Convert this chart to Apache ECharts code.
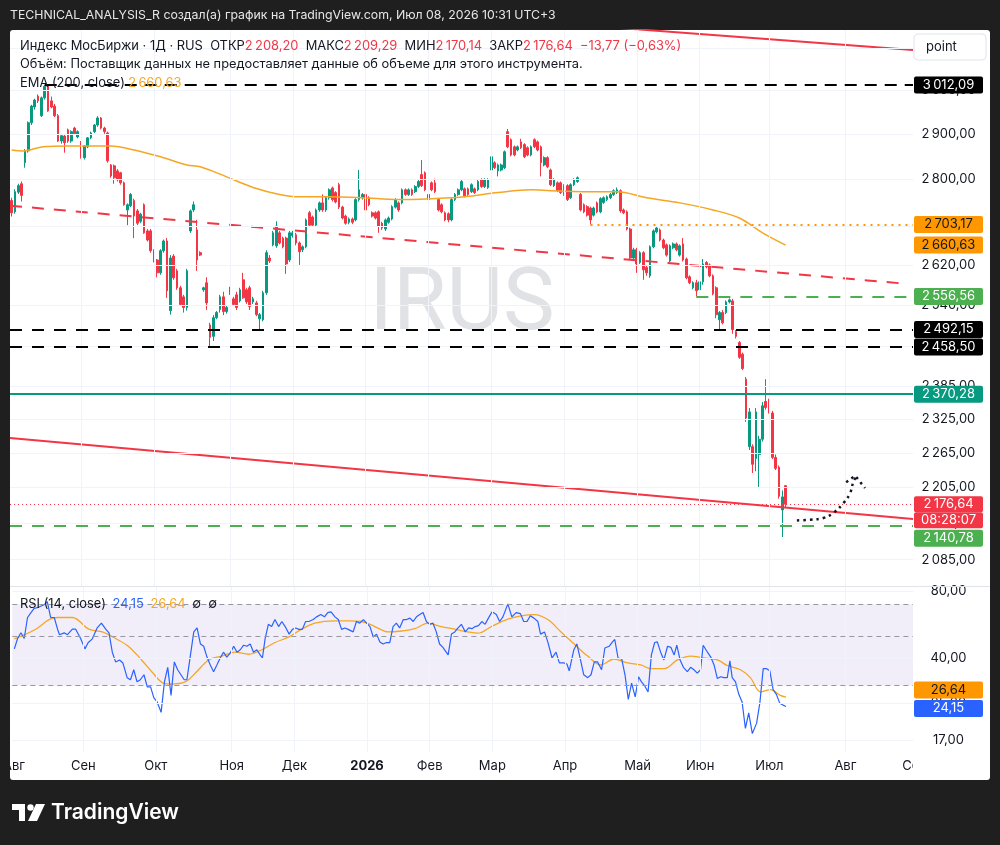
<!DOCTYPE html>
<html><head><meta charset="utf-8">
<script src="https://cdn.jsdelivr.net/npm/echarts@6/dist/echarts.min.js"></script>
<style>html,body{margin:0;padding:0;background:#1f1f1f;}#c{width:1000px;height:845px;}</style>
</head><body><div id="c"></div>
<script>
// ---------- DATA ----------
const monthStarts = [0,21,43,66,85,107,126,145,167,189,208,229,252];
const monthLabels = ['Авг','Сен','Окт','Ноя','Дек','2026','Фев','Мар','Апр','Май','Июн','Июл','Авг'];

const open = [2754,2730,2772,2790,2836,2862,2925,2961,2986,2941,2982,3009,2975,2963,2941,2884,2895,2909,2884,2913,
2893,2880,2847,2871,2891,2905,2920,2936,2913,2902,2831,2829,2818,2814,2792,2734,2743,2754,2732,2710,
2745,2690,2690,2649,2630,2604,2649,2669,2529,2638,2608,2574,2556,2535,2690,2734,2692,2645,2570,2584,
2501,2479,2515,2531,2556,2527,2564,2552,2560,2548,2590,2570,2574,2546,2544,2513,2511,2564,2634,2661,
2659,2686,2675,2675,2630,2680,2682,2665,2651,2657,2728,2719,2702,2734,2749,2734,2760,2781,2771,2788,
2740,2721,2708,2715,2713,2756,2760,2767,2760,2728,2728,2730,2706,2694,2708,2715,2740,2749,2749,2777,
2767,2777,2773,2784,2810,2814,2756,2792,2792,2756,2745,2728,2726,2713,2756,2767,2777,2779,2779,2773,
2779,2777,2799,2784,2782,2820,2836,2818,2820,2825,2905,2887,2871,2864,2882,2876,2869,2853,2887,2882,
2871,2831,2847,2820,2786,2792,2792,2786,2786,2760,2788,2795,2767,2745,2741,2738,2723,2749,2730,2750,
2756,2760,2767,2771,2775,2734,2730,2694,2634,2651,2625,2645,2615,2598,2657,2688,2692,2671,2661,2628,
2655,2663,2640,2663,2632,2596,2574,2584,2570,2586,2625,2620,2598,2574,2511,2525,2525,2546,2548,2488,
2467,2445,2398,2276,2276,2255,2262,2289,2357,2357,2336,2257,2240,2167,2208.20];
const high = [2760,2778,2790,2795,2866,2928,2966,2980,2990,2985,3012.09,3011,2985,2968,2945,2900,2898,2912,2908,2916,
2908,2884,2875,2893,2905,2922,2940,2938,2916,2905,2833,2832,2822,2816,2795,2748,2770,2758,2736,2728,
2748,2694,2694,2652,2632,2652,2672,2675,2640,2642,2612,2578,2560,2612,2735,2752,2713,2648,2576,2595,
2505,2520,2528,2560,2566,2540,2576,2556,2566,2574,2604,2574,2578,2556,2548,2524,2568,2650,2640,2690,
2710,2690,2678,2678,2690,2690,2686,2668,2660,2716,2732,2722,2737,2752,2767,2763,2780,2784,2774,2792,
2743,2724,2718,2718,2759,2820,2770,2770,2763,2731,2731,2733,2709,2716,2720,2744,2759,2752,2780,2780,
2780,2780,2787,2798,2842,2817,2770,2795,2801,2759,2748,2731,2729,2759,2770,2780,2798,2782,2782,2791,
2782,2798,2802,2802,2802,2852,2839,2834,2834,2863,2911,2890,2874,2874,2889,2879,2872,2874,2890,2885,
2874,2850,2850,2823,2802,2795,2795,2789,2789,2791,2802,2806,2770,2748,2744,2741,2741,2752,2761,2763,
2765,2770,2778,2782,2778,2737,2733,2697,2655,2655,2648,2648,2618,2660,2693,2699,2695,2674,2664,2662,
2666,2666,2662,2675,2635,2599,2587,2590,2590,2632,2628,2623,2601,2577,2528,2530,2549,2553,2552,2491,
2470,2448,2402,2345,2280,2345,2295,2356,2398,2362,2340,2262,2243,2200,2209.29];
const low = [2720,2726,2768,2752,2825,2858,2920,2955,2970,2938,2978,2950,2958,2938,2882,2878,2858,2880,2880,2898,
2890,2845,2843,2868,2888,2902,2916,2910,2900,2836,2803,2790,2795,2788,2743,2702,2740,2675,2702,2706,
2684,2668,2645,2625,2595,2600,2645,2554,2521,2590,2570,2538,2525,2529,2686,2730,2608,2638,2566,2530,
2458.50,2470,2512,2525,2520,2523,2560,2538,2530,2545,2552,2542,2530,2542,2518,2492.15,2508,2560,2624,2658,
2655,2662,2654,2602,2626,2676,2660,2620,2646,2654,2698,2698,2698,2730,2730,2730,2756,2752,2748,2736,
2714,2703,2704,2704,2710,2752,2756,2730,2742,2718,2714,2686,2692,2690,2705,2712,2737,2730,2746,2764,
2764,2764,2770,2781,2783,2774,2753,2774,2770,2731,2727,2710,2708,2710,2753,2764,2774,2761,2764,2770,
2768,2774,2781,2781,2779,2817,2822,2806,2817,2822,2868,2850,2850,2861,2866,2846,2850,2850,2868,2861,
2806,2828,2824,2785,2783,2772,2768,2764,2753,2757,2785,2792,2731,2727,2720,2703.17,2720,2727,2727,2747,
2753,2757,2764,2768,2728,2725,2691,2631,2630,2604,2622,2590,2598,2594,2654,2685,2668,2652,2637,2625,
2652,2648,2637,2627,2591,2581,2571,2556.56,2567,2580,2613,2595,2559,2514,2490,2502,2522,2543,2484,2475,
2436,2415,2320,2270,2230,2233,2206,2285,2342,2335,2254,2235,2186,2122,2170.14];
const close = [2728,2773,2786,2765,2862,2925,2963,2977,2975,2982,3009,2952,2961,2941,2884,2896,2880,2884,2905,2900,
2905,2847,2873,2891,2902,2920,2936,2913,2905,2840,2807,2803,2799,2792,2745,2745,2767,2721,2706,2725,
2686,2671,2649,2628,2604,2649,2669,2568,2634,2594,2574,2541,2535,2608,2732,2745,2630,2640,2574,2544,
2477,2515,2525,2556,2527,2535,2570,2541,2535,2570,2554,2546,2537,2552,2521,2521,2564,2645,2628,2686,
2700,2665,2657,2622,2686,2686,2665,2647,2657,2713,2702,2702,2734,2749,2734,2760,2777,2756,2751,2740,
2717,2706,2715,2708,2756,2777,2767,2734,2745,2721,2717,2700,2696,2713,2717,2741,2756,2734,2777,2767,
2777,2767,2784,2795,2786,2777,2767,2777,2773,2734,2730,2713,2713,2756,2767,2777,2795,2764,2767,2788,
2771,2795,2784,2799,2799,2849,2825,2831,2831,2860,2871,2853,2853,2871,2869,2849,2853,2871,2871,2864,
2836,2847,2827,2788,2799,2775,2771,2767,2756,2788,2799,2803,2734,2730,2723,2713,2738,2730,2758,2760,
2762,2767,2775,2777,2732,2728,2694,2634,2651,2622,2645,2610,2604,2657,2690,2696,2671,2655,2640,2659,
2663,2651,2659,2630,2594,2584,2584,2568,2586,2622,2616,2598,2562,2521,2525,2505,2546,2550,2492,2479,
2439,2418,2327,2338,2245,2338,2289,2349,2346,2338,2257,2238,2190,2189,2176.64];

// EMA(200) (bar index, value)
const emaIdx = [0,3.5,9.5,17,30,37,45,53,57,65,73,81,87,96,106,117,127,137,147,157,163,173,183,192,202,212,220,227,234];
const emaVal = [2864,2862,2871,2873,2873,2864,2849,2831,2827,2805,2782,2767,2762,2762,2760,2756,2758,2762,2771,2777,2775,2773,2773,2760,2749,2734,2717,2686,2660.63];

// RSI(14)
const rsiIdx = [0.1,1.1,2.1,3.1,4.1,5.1,6.1,7.6,9.1,10.1,11.1,12.2,13.2,13.8,15.2,16.2,17.7,18.7,20.2,21.5,22.5,23.7,25.2,26.5,27.8,28.8,29.8,30.8,32,33,
34.3,35.3,36.3,37.3,38.3,39.4,40.4,41.4,42.4,43.4,44.6,45.6,46.6,47.6,48.6,49.6,50.6,51.6,52.4,53.4,54.5,55.5,56.5,57.5,58.5,59.5,60.5,61.5,62.5,63.5,
64.5,65.5,66.6,67.6,68.6,69.6,70.6,71.6,72.6,73.6,74.6,75.3,76.1,77.1,78.1,79.1,80.2,81.2,82.2,83.4,84.4,85.4,86.4,87.4,88.4,89.4,90.7,91.7,93,94.1,
95.1,96.1,97.3,98.3,99.3,100.3,101.3,102.8,103.8,104.8,105.9,106.9,107.9,108.9,109.9,110.9,111.9,112.9,113.9,114.9,115.9,116.9,118,119,120,121,122,123,124,125,
126,127,128,129,130,131.6,132.6,133.6,134.6,135.6,136.8,137.8,138.8,139.8,140.8,141.8,142.8,143.8,144.9,146.2,147.2,148.2,149.7,150.9,152.2,153.5,154.5,155.5,156.5,157.6,
158.8,159.6,160.8,161.8,163.1,164.3,165.3,166.6,167.6,168.3,169.7,170.6,171.6,172.7,173.9,174.9,175.9,176.9,178.1,179.1,180.4,181.4,182.1,183.1,184.2,185.2,186.2,187.2,188.3,189.3,
190.2,191.2,192.2,193.2,194.2,195,196,197,198.1,199.1,200.1,200.9,201.9,202.9,204.1,205.1,206.1,207.1,208.1,208.9,210.2,211.2,212.2,213.2,214.2,215.2,216.2,217,217.7,218.7,
219.7,220.7,221.7,222.7,223.8,225.1,226.1,227.1,228.1,229.1,230.1,231.1,232.1,233.1,234];
const rsiVal = [44,49,52,49,61,64,67,68,69.6,72,61,61,54,51,52,51,54,54,49,44,47,48.7,54.7,57.5,54,52,42.5,38.4,39.2,38,
32.6,31.9,35.4,31.2,31.9,33.6,29.6,29.6,26.4,25.3,22.7,31.2,36.3,27.1,38.4,35.4,33.6,31.9,31.9,40.4,52.5,54.7,46.3,45.2,40.4,37.2,34.7,37.2,40,42.5,
40.4,42,45.2,42.5,43.6,45.7,45.2,46.3,42.5,43.6,41.3,40,48.7,56.8,55.5,59.7,55.5,58.5,55.5,51.3,53.9,54.7,53.9,53.9,58.5,58.5,59.7,61.4,62.9,61.4,
64.2,64.7,61.4,59.7,53.9,54.7,53.9,52.5,58.5,57.5,59.7,57.5,55.5,49.8,51.3,47.3,46.3,47,47,55.5,57.5,54.7,59.7,59.7,60.6,58.5,61.4,62.9,64.2,58.5,
56.8,57.5,52.5,46.3,44.7,41.3,51.3,52.5,54.7,56.8,52.5,54.7,54.3,55.5,56,58.5,56.8,60.6,64.7,62.9,58.5,61.4,70.3,61.4,64.2,63.5,58.5,58.5,62.1,60.6,
58.5,51.3,52.5,47.3,40,42.5,38,38,37.6,35,43.6,46.3,40,33.6,32.6,33.6,38.4,38.4,35.4,44.4,45.2,47.3,48.5,40,39.6,33.6,26,30.8,26.7,32.9,
31.2,29.9,28.1,41.3,47,47.3,42.5,39.2,45.2,44.7,41.3,45.7,39.2,36.3,34.7,36.3,35.4,34.2,35.4,45.7,42.5,40.4,37.2,32.3,32.9,32.6,32.6,38.8,32.6,31.2,
27.4,25.3,19.2,22.6,18.2,20.3,25.2,35.8,35.8,35,28.8,27.4,25,24.5,24.15];

// RSI moving average
const rsiMaIdx = [0.1,6.6,10.6,13.2,17.7,22.7,26.8,30.8,34.8,38.8,41.9,44.9,47.4,51.9,55,59,63,67,71.1,75.1,79.1,83.2,87.2,91.2,97.3,101.3,105.3,109.4,113.4,117.4,
121.5,125.5,129.5,133.6,137.6,140.6,144.7,149.7,153.7,157.7,161.8,165.8,169.8,173.9,177.9,181.9,186,190,193,197,201.1,205.1,209.1,213.2,216.2,220.2,223.2,226.3,229.3,232.3,234];
const rsiMaVal = [48.8,54,59.7,61,61,54,52.5,49,45,39,34.5,31,30.5,31.2,34.2,39.2,40.8,42.5,41.6,43.6,47,49.7,54,57.5,58.9,58.9,58.5,55.5,52.5,53,
54.3,57.5,55.5,54,52.5,51.8,55.5,60,62.1,62.9,59.7,52.5,46.3,40.8,37.2,39.6,38,37.2,35.8,35.8,39.2,40.8,40,39.2,37,35.4,32.6,28.1,28.8,27.1,26.64];

// Price-scale ticks (log scale) and RSI-scale ticks
const priceTicks = [3100,3000,2900,2800,2700,2620,2540,2460,2385,2325,2265,2205,2145,2085];
const rsiTicks = [80,40,25,17];
const rsiLevels = [70,50,30];

// Horizontal levels drawn on the chart
const LVL_HIGH = 3012.09, LVL_HIGH_FROM = 10;
const LVL_DOT = 2703.17, LVL_DOT_FROM = 175;
const LVL_GREEN1 = 2556.56, LVL_GREEN1_FROM = 207;
const LVL_BLACK1 = 2492.15, LVL_BLACK2 = 2458.50;
const LVL_TEAL = 2370.28;
const LVL_GREEN2 = 2140.78;
const LAST_PRICE = 2176.64;
const EMA_LAST = 2660.63;
const RSI_LAST = 24.15, RSI_MA_LAST = 26.64;

// Trend lines (bar index, price)
const trendDashIdx = [-0.5, 269.2], trendDashVal = [2743, 2582.7];
const trendLowIdx = [-0.5, 272.5], trendLowVal = [2291, 2151.7];
const trendUpIdx = [150, 272.5], trendUpVal = [3168.4, 3094.7];
// Dotted forecast arrow (bar index, price)
const arrowIdx = [237.4,241.4,245.4,248.4,251.5,253.5,254.5,255.5];
const arrowVal = [2149.5,2150.7,2153.5,2161.9,2178.7,2195.6,2215.5,2224.1];
const headIdx = [252.3,255,258];
const headVal = [2213.8,2225.3,2204.1];

// ---------- CHART ----------
const FONT = 'Inter, "Noto Sans", "DejaVu Sans", sans-serif';
const UP = '#089981', DOWN = '#f23645', INK = '#131722', GRIDC = '#f0f3fa';
const X_MIN = -0.5, X_MAX = 272.5;
const PRICE_MIN = 2043, PRICE_MAX = 3143;
const RSI_MIN = 15.03, RSI_MAX = 83.8;
const CLEAR = {color: 'rgba(0,0,0,0)', width: 1, type: 'solid'};

function fmt(v){
  const p = v.toFixed(2).split('.');
  let i = p[0];
  if (i.length > 3) i = i.slice(0, i.length-3) + '\u2009' + i.slice(-3);
  return i + ',' + p[1];
}
function axLabel(lines, bg, fg, shift){
  const h = lines.length > 1 ? 16 : 17;
  const rich = {bx: {width: 69, height: h, lineHeight: h, align: 'center', verticalAlign: 'middle',
    backgroundColor: bg || 'transparent', color: fg, fontSize: 13, fontFamily: FONT, borderRadius: bg ? 2 : 0}};
  let s = lines.map(t => '{bx|' + t + '}').join('\n');
  if (shift) {
    const sp = Math.abs(shift) * 2;
    rich.sp = {height: sp, lineHeight: sp, width: 69, fontSize: 1, color: 'transparent'};
    s = shift > 0 ? '{sp| }\n' + s : s + '\n{sp| }';
  }
  return {show: true, position: 'end', distance: 1, padding: 0, formatter: () => s, rich: rich};
}
function hline(x1, v, style, label){
  return [{coord: [x1, v], lineStyle: style, label: label || {show: false}}, {coord: [X_MAX, v]}];
}
const gridStyle = {color: GRIDC, width: 1, type: 'solid'};
const vGrid = monthStarts.slice(1).map(m => ({xAxis: m, lineStyle: gridStyle, label: {show: false}}));

const candleData = open.map((o, i) => [i, o, close[i], low[i], high[i]]);
const pairs = (xs, ys) => xs.map((x, i) => [x, ys[i]]);

const option = {
  animation: false,
  backgroundColor: '#1f1f1f',
  textStyle: {fontFamily: FONT},
  grid: [
    {left: 10, top: 30, width: 903, height: 556},
    {left: 10, top: 587, width: 903, height: 165}
  ],
  xAxis: [
    {type: 'value', gridIndex: 0, min: X_MIN, max: X_MAX, show: false},
    {type: 'value', gridIndex: 1, min: X_MIN, max: X_MAX,
      axisLine: {show: false}, axisTick: {show: false}, splitLine: {show: false},
      axisLabel: {customValues: monthStarts, margin: 8, color: INK, fontSize: 13, fontFamily: FONT,
        formatter: function(v){
          const k = monthStarts.indexOf(Math.round(v));
          if (k < 0) return '';
          return monthLabels[k] === '2026' ? '{yr|2026}' : monthLabels[k];
        },
        rich: {yr: {fontWeight: 'bold', fontSize: 13, color: INK, fontFamily: FONT}}}}
  ],
  yAxis: [
    {type: 'log', gridIndex: 0, min: PRICE_MIN, max: PRICE_MAX, show: false},
    {type: 'log', gridIndex: 1, min: RSI_MIN, max: RSI_MAX, show: false}
  ],
  series: [
    { // main pane grid + price scale labels
      type: 'line', xAxisIndex: 0, yAxisIndex: 0, data: [[0, 2500]], symbol: 'none', silent: true, z: 1, clip: false,
      lineStyle: {opacity: 0},
      markLine: {symbol: ['none','none'], silent: true, animation: false,
        data: priceTicks.map(v => hline(X_MIN, v, gridStyle, axLabel([fmt(v)], null, INK, 0))).concat(vGrid)}
    },
    {
      type: 'candlestick', xAxisIndex: 0, yAxisIndex: 0, data: candleData, encode: {x: 0, y: [1,2,3,4]},
      barWidth: 2.2, silent: true, z: 3,
      itemStyle: {color: UP, color0: DOWN, borderColor: UP, borderColor0: DOWN, borderWidth: 1}
    },
    {
      type: 'line', xAxisIndex: 0, yAxisIndex: 0, data: pairs(emaIdx, emaVal), smooth: 0.35,
      symbol: 'none', silent: true, z: 4, lineStyle: {color: '#f5a623', width: 1.5}
    },
    {type: 'line', xAxisIndex: 0, yAxisIndex: 0, data: pairs(trendDashIdx, trendDashVal), symbol: 'none', silent: true, z: 4,
      lineStyle: {color: DOWN, width: 2, type: [12, 10]}},
    {type: 'line', xAxisIndex: 0, yAxisIndex: 0, data: pairs(trendLowIdx, trendLowVal), symbol: 'none', silent: true, z: 4,
      lineStyle: {color: DOWN, width: 2}},
    {type: 'line', xAxisIndex: 0, yAxisIndex: 0, data: pairs(trendUpIdx, trendUpVal), symbol: 'none', silent: true, z: 4,
      lineStyle: {color: DOWN, width: 2}},
    { // levels
      type: 'line', xAxisIndex: 0, yAxisIndex: 0, data: [[0, 2500]], symbol: 'none', silent: true, z: 5, clip: false,
      lineStyle: {opacity: 0},
      markLine: {symbol: ['none','none'], silent: true, animation: false, data: [
        hline(LVL_HIGH_FROM, LVL_HIGH, {color: '#000', width: 2, type: [12, 8]}, axLabel([fmt(LVL_HIGH)], '#000', '#fff', 0)),
        hline(LVL_DOT_FROM, LVL_DOT, {color: '#ff9800', width: 2, type: [2, 5]}, axLabel([fmt(LVL_DOT)], '#ff9800', '#131722', 0)),
        hline(250, EMA_LAST, CLEAR, axLabel([fmt(EMA_LAST)], '#ff9800', '#131722', 0)),
        hline(LVL_GREEN1_FROM, LVL_GREEN1, {color: '#4caf50', width: 2, type: [12, 10]}, axLabel([fmt(LVL_GREEN1)], '#4caf50', '#fff', 0)),
        hline(X_MIN, LVL_BLACK1, {color: '#000', width: 2, type: [12, 10]}, axLabel([fmt(LVL_BLACK1)], '#000', '#fff', 0)),
        hline(X_MIN, LVL_BLACK2, {color: '#000', width: 2, type: [12, 10]}, axLabel([fmt(LVL_BLACK2)], '#000', '#fff', 0)),
        hline(X_MIN, LVL_TEAL, {color: UP, width: 2, type: 'solid'}, axLabel([fmt(LVL_TEAL)], UP, '#fff', 0)),
        hline(X_MIN, LVL_GREEN2, {color: '#4caf50', width: 2, type: [12, 10]}, axLabel([fmt(LVL_GREEN2)], '#4caf50', '#fff', 12.5)),
        hline(X_MIN, LAST_PRICE, {color: DOWN, width: 1, type: [1, 3]}, axLabel([fmt(LAST_PRICE), '08:28:07'], DOWN, '#fff', 8))
      ]}
    },
    {type: 'line', xAxisIndex: 0, yAxisIndex: 0, data: pairs(arrowIdx, arrowVal), smooth: 0.4, symbol: 'none', silent: true, z: 6,
      lineStyle: {color: '#131722', width: 2.5, type: [2.5, 4]}},
    {type: 'line', xAxisIndex: 0, yAxisIndex: 0, data: pairs(headIdx, headVal), symbol: 'none', silent: true, z: 6,
      lineStyle: {color: '#131722', width: 2.5, type: [2.5, 4]}},
    { // RSI pane grid, band, level lines, labels
      type: 'line', xAxisIndex: 1, yAxisIndex: 1, data: [[0, 50]], symbol: 'none', silent: true, z: 1, clip: false,
      lineStyle: {opacity: 0},
      markArea: {silent: true, itemStyle: {color: 'rgba(126,87,194,0.1)'}, data: [[{yAxis: 70}, {yAxis: 30}]]},
      markLine: {symbol: ['none','none'], silent: true, animation: false,
        data: rsiTicks.map(v => hline(X_MIN, v, gridStyle, axLabel([fmt(v)], null, INK, 0)))
          .concat(monthStarts.slice(1).map(m => ({xAxis: m, lineStyle: gridStyle, label: {show: false}})))
          .concat(rsiLevels.map(v => hline(X_MIN, v, {color: '#9598a1', width: 1, type: [5, 4]}, null)))}
    },
    {type: 'line', xAxisIndex: 1, yAxisIndex: 1, data: pairs(rsiMaIdx, rsiMaVal), smooth: 0.35, symbol: 'none', silent: true, z: 3,
      lineStyle: {color: '#f5a623', width: 1.3}},
    {type: 'line', xAxisIndex: 1, yAxisIndex: 1, data: pairs(rsiIdx, rsiVal), symbol: 'none', silent: true, z: 4,
      lineStyle: {color: '#2962ff', width: 1.2}},
    {
      type: 'line', xAxisIndex: 1, yAxisIndex: 1, data: [[0, 50]], symbol: 'none', silent: true, z: 5, clip: false,
      lineStyle: {opacity: 0},
      markLine: {symbol: ['none','none'], silent: true, animation: false, data: [
        hline(250, RSI_MA_LAST, CLEAR, axLabel([fmt(RSI_MA_LAST)], '#ff9800', '#131722', -7)),
        hline(250, RSI_LAST, CLEAR, axLabel([fmt(RSI_LAST)], '#2962ff', '#fff', 2))
      ]}
    }
  ],
  graphic: [
    {type: 'rect', z: -10, silent: true, shape: {x: 10, y: 30, width: 980, height: 750, r: 3}, style: {fill: '#ffffff'}},
    {type: 'text', z: 0, silent: true, style: {text: 'IRUS', x: 462, y: 307, align: 'center', verticalAlign: 'middle',
      fontSize: 87, fontFamily: 'Roboto, sans-serif', fill: '#e1e2e5'}},
    {type: 'text', z: 10, silent: true, style: {text: 'TECHNICAL_ANALYSIS_R создал(а) график на TradingView.com, Июл 08, 2026 10:31 UTC+3',
      x: 10, y: 15, verticalAlign: 'middle', fill: '#e6e6e6', fontSize: 12.3, fontFamily: FONT}},
    {type: 'text', z: 10, silent: true, style: {
      text: '{n|Индекс МосБиржи · 1Д · RUS  ОТКР}{r|2\u2009208,20}{n|  МАКС}{r|2\u2009209,29}{n|  МИН}{r|2\u2009170,14}{n|  ЗАКР}{r|2\u2009176,64}{r|  −13,77 (−0,63%)}',
      x: 20, y: 46, verticalAlign: 'middle',
      rich: {n: {fill: INK, fontSize: 12.9, fontFamily: FONT}, r: {fill: DOWN, fontSize: 12.9, fontFamily: FONT}}}},
    {type: 'text', z: 10, silent: true, style: {text: 'Объём: Поставщик данных не предоставляет данные об объеме для этого инструмента.',
      x: 20, y: 64.5, verticalAlign: 'middle', fill: INK, fontSize: 12.85, fontFamily: FONT}},
    {type: 'text', z: 10, silent: true, style: {text: '{n|EMA (200, close)} {o|2\u2009660,63}', x: 20, y: 83, verticalAlign: 'middle',
      rich: {n: {fill: INK, fontSize: 12.9, fontFamily: FONT}, o: {fill: '#f5a623', fontSize: 12.9, fontFamily: FONT}}}},
    {type: 'text', z: 10, silent: true, style: {text: '{n|RSI (14, close)}  {b|24,15}  {o|26,64}  {n|∅  ∅}', x: 20, y: 604, verticalAlign: 'middle',
      rich: {n: {fill: INK, fontSize: 12.9, fontFamily: FONT}, b: {fill: '#2962ff', fontSize: 12.9, fontFamily: FONT}, o: {fill: '#f5a623', fontSize: 12.9, fontFamily: FONT}}}},
    {type: 'line', z: 8, silent: true, shape: {x1: 10, y1: 586.5, x2: 990, y2: 586.5}, style: {stroke: '#e0e3eb', lineWidth: 1}},
    {type: 'rect', z: 8, silent: true, shape: {x: 914, y: 34, width: 72, height: 26, r: 4}, style: {fill: '#fff', stroke: '#e0e3eb', lineWidth: 1}},
    {type: 'text', z: 9, silent: true, style: {text: 'point', x: 926, y: 47, verticalAlign: 'middle', fill: INK, fontSize: 13, fontFamily: FONT}},
    {type: 'text', z: 8, silent: true, style: {text: 'Сен', x: 914.7, y: 766, align: 'center', verticalAlign: 'middle', fill: INK, fontSize: 13, fontFamily: FONT}},
    {type: 'rect', z: 9, silent: true, shape: {x: 913, y: 756, width: 74, height: 22}, style: {fill: '#fff'}},
    {type: 'rect', z: 9, silent: true, shape: {x: 0, y: 756, width: 10, height: 22}, style: {fill: '#1f1f1f'}},
    // TradingView logo
    {type: 'rect', z: 10, silent: true, shape: {x: 12, y: 804, width: 13, height: 6}, style: {fill: '#fff'}},
    {type: 'rect', z: 10, silent: true, shape: {x: 19, y: 804, width: 6, height: 17}, style: {fill: '#fff'}},
    {type: 'circle', z: 10, silent: true, shape: {cx: 30.5, cy: 807.5, r: 3.2}, style: {fill: '#fff'}},
    {type: 'polygon', z: 10, silent: true, shape: {points: [[36, 804], [45, 804], [37, 821], [28, 821]]}, style: {fill: '#fff'}},
    {type: 'text', z: 10, silent: true, style: {text: 'TradingView', x: 51, y: 812.5, verticalAlign: 'middle', fill: '#fff',
      fontSize: 21, fontWeight: 600, fontFamily: FONT}}
  ]
};
const chart = echarts.init(document.getElementById('c'), null, {renderer: 'canvas', width: 1000, height: 845});
chart.setOption(option);
</script></body></html>
